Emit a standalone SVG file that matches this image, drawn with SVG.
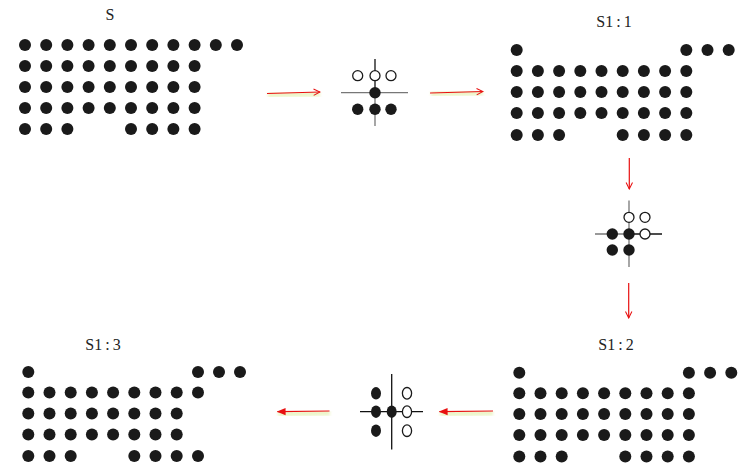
<svg xmlns="http://www.w3.org/2000/svg" xmlns:xlink="http://www.w3.org/1999/xlink" width="746" height="473" viewBox="0 0 746 473">
<style>
.d{fill:#1a1a1a}
.o{fill:#fff;stroke:#1a1a1a;stroke-width:1.3}
.lbl{font-family:"Liberation Serif","DejaVu Serif",serif;font-size:16px;fill:#222;text-anchor:middle}
.ax{stroke:#111;stroke-width:1.3;fill:none}
.axg{stroke:#777;stroke-width:1.3;fill:none}
.arr{stroke:#e81010;stroke-width:1.2;fill:none}
.glow{stroke:#dfeea0;stroke-width:5;opacity:0.6;fill:none;filter:url(#blur)}
</style>
<defs>
<filter id="blur" x="-20%" y="-200%" width="140%" height="500%"><feGaussianBlur stdDeviation="1.5"/></filter>
<marker id="v" viewBox="0 0 10 10" refX="9" refY="5" markerWidth="8" markerHeight="8" markerUnits="userSpaceOnUse" orient="auto">
<path d="M1,1 L9,5 L1,9" fill="none" stroke="#e81010" stroke-width="1.3"/>
</marker>
<marker id="t" viewBox="0 0 10 10" refX="9" refY="5" markerWidth="9" markerHeight="9" markerUnits="userSpaceOnUse" orient="auto">
<path d="M0,1 L10,5 L0,9 Z" fill="#e81010"/>
</marker>
<circle id="c" r="6" class="d"/>
</defs>

<g id="S">
<text class="lbl" x="110" y="20">S</text>
<g>
<use href="#c" x="25" y="45"/><use href="#c" x="46.2" y="45"/><use href="#c" x="67.4" y="45"/><use href="#c" x="88.6" y="45"/><use href="#c" x="109.8" y="45"/><use href="#c" x="131" y="45"/><use href="#c" x="152.2" y="45"/><use href="#c" x="173.4" y="45"/><use href="#c" x="194.6" y="45"/><use href="#c" x="215.8" y="45"/><use href="#c" x="237" y="45"/>
<use href="#c" x="25" y="66"/><use href="#c" x="46.2" y="66"/><use href="#c" x="67.4" y="66"/><use href="#c" x="88.6" y="66"/><use href="#c" x="109.8" y="66"/><use href="#c" x="131" y="66"/><use href="#c" x="152.2" y="66"/><use href="#c" x="173.4" y="66"/><use href="#c" x="194.6" y="66"/>
<use href="#c" x="25" y="87"/><use href="#c" x="46.2" y="87"/><use href="#c" x="67.4" y="87"/><use href="#c" x="88.6" y="87"/><use href="#c" x="109.8" y="87"/><use href="#c" x="131" y="87"/><use href="#c" x="152.2" y="87"/><use href="#c" x="173.4" y="87"/><use href="#c" x="194.6" y="87"/>
<use href="#c" x="25" y="108"/><use href="#c" x="46.2" y="108"/><use href="#c" x="67.4" y="108"/><use href="#c" x="88.6" y="108"/><use href="#c" x="109.8" y="108"/><use href="#c" x="131" y="108"/><use href="#c" x="152.2" y="108"/><use href="#c" x="173.4" y="108"/><use href="#c" x="194.6" y="108"/>
<use href="#c" x="25" y="129"/><use href="#c" x="46.2" y="129"/><use href="#c" x="67.4" y="129"/><use href="#c" x="131" y="129"/><use href="#c" x="152.2" y="129"/><use href="#c" x="173.4" y="129"/><use href="#c" x="194.6" y="129"/>
</g>
</g>

<g id="S1_1">
<text class="lbl" x="614" y="27">S1<tspan dx="3">:</tspan><tspan dx="3">1</tspan></text>
<g>
<use href="#c" x="516.7" y="50"/><use href="#c" x="686.3" y="50"/><use href="#c" x="707.5" y="50"/><use href="#c" x="728.7" y="50"/>
<use href="#c" x="516.7" y="71"/><use href="#c" x="537.9" y="71"/><use href="#c" x="559.1" y="71"/><use href="#c" x="580.3" y="71"/><use href="#c" x="601.5" y="71"/><use href="#c" x="622.7" y="71"/><use href="#c" x="643.9" y="71"/><use href="#c" x="665.1" y="71"/><use href="#c" x="686.3" y="71"/>
<use href="#c" x="516.7" y="92"/><use href="#c" x="537.9" y="92"/><use href="#c" x="559.1" y="92"/><use href="#c" x="580.3" y="92"/><use href="#c" x="601.5" y="92"/><use href="#c" x="622.7" y="92"/><use href="#c" x="643.9" y="92"/><use href="#c" x="665.1" y="92"/><use href="#c" x="686.3" y="92"/>
<use href="#c" x="516.7" y="113"/><use href="#c" x="537.9" y="113"/><use href="#c" x="559.1" y="113"/><use href="#c" x="580.3" y="113"/><use href="#c" x="601.5" y="113"/><use href="#c" x="622.7" y="113"/><use href="#c" x="643.9" y="113"/><use href="#c" x="665.1" y="113"/><use href="#c" x="686.3" y="113"/>
<use href="#c" x="516.7" y="135"/><use href="#c" x="537.9" y="135"/><use href="#c" x="559.1" y="135"/><use href="#c" x="622.7" y="135"/><use href="#c" x="643.9" y="135"/><use href="#c" x="665.1" y="135"/><use href="#c" x="686.3" y="135"/>
</g>
</g>

<g id="S1_2">
<text class="lbl" x="616" y="350">S1<tspan dx="3">:</tspan><tspan dx="3">2</tspan></text>
<g>
<use href="#c" x="519.3" y="372.7"/><use href="#c" x="688.9" y="372.7"/><use href="#c" x="710.1" y="372.7"/><use href="#c" x="731.3" y="372.7"/>
<use href="#c" x="519.3" y="393.3"/><use href="#c" x="540.5" y="393.3"/><use href="#c" x="561.7" y="393.3"/><use href="#c" x="582.9" y="393.3"/><use href="#c" x="604.1" y="393.3"/><use href="#c" x="625.3" y="393.3"/><use href="#c" x="646.5" y="393.3"/><use href="#c" x="667.7" y="393.3"/><use href="#c" x="688.9" y="393.3"/>
<use href="#c" x="519.3" y="414"/><use href="#c" x="540.5" y="414"/><use href="#c" x="561.7" y="414"/><use href="#c" x="582.9" y="414"/><use href="#c" x="604.1" y="414"/><use href="#c" x="625.3" y="414"/><use href="#c" x="646.5" y="414"/><use href="#c" x="667.7" y="414"/><use href="#c" x="688.9" y="414"/>
<use href="#c" x="519.3" y="435"/><use href="#c" x="540.5" y="435"/><use href="#c" x="561.7" y="435"/><use href="#c" x="582.9" y="435"/><use href="#c" x="604.1" y="435"/><use href="#c" x="625.3" y="435"/><use href="#c" x="646.5" y="435"/><use href="#c" x="667.7" y="435"/><use href="#c" x="688.9" y="435"/>
<use href="#c" x="519.3" y="456.5"/><use href="#c" x="540.5" y="456.5"/><use href="#c" x="561.7" y="456.5"/><use href="#c" x="625.3" y="456.5"/><use href="#c" x="646.5" y="456.5"/><use href="#c" x="667.7" y="456.5"/><use href="#c" x="688.9" y="456.5"/>
</g>
</g>

<g id="S1_3">
<text class="lbl" x="103" y="350">S1<tspan dx="3">:</tspan><tspan dx="3">3</tspan></text>
<g>
<use href="#c" x="28.3" y="372"/><use href="#c" x="198" y="372"/><use href="#c" x="219" y="372"/><use href="#c" x="240" y="372"/>
<use href="#c" x="28.3" y="392.5"/><use href="#c" x="49.5" y="392.5"/><use href="#c" x="70.7" y="392.5"/><use href="#c" x="91.9" y="392.5"/><use href="#c" x="113.1" y="392.5"/><use href="#c" x="134.3" y="392.5"/><use href="#c" x="155.5" y="392.5"/><use href="#c" x="176.7" y="392.5"/><use href="#c" x="198" y="392.5"/>
<use href="#c" x="28.3" y="413.5"/><use href="#c" x="49.5" y="413.5"/><use href="#c" x="70.7" y="413.5"/><use href="#c" x="91.9" y="413.5"/><use href="#c" x="113.1" y="413.5"/><use href="#c" x="134.3" y="413.5"/><use href="#c" x="155.5" y="413.5"/><use href="#c" x="176.7" y="413.5"/>
<use href="#c" x="28.3" y="434.5"/><use href="#c" x="49.5" y="434.5"/><use href="#c" x="70.7" y="434.5"/><use href="#c" x="91.9" y="434.5"/><use href="#c" x="113.1" y="434.5"/><use href="#c" x="134.3" y="434.5"/><use href="#c" x="155.5" y="434.5"/><use href="#c" x="176.7" y="434.5"/>
<use href="#c" x="28.3" y="456"/><use href="#c" x="49.5" y="456"/><use href="#c" x="70.7" y="456"/><use href="#c" x="134.3" y="456"/><use href="#c" x="155.5" y="456"/><use href="#c" x="176.7" y="456"/><use href="#c" x="198" y="456"/>
</g>
</g>

<g id="SE1">
<line class="ax" x1="375" y1="59" x2="375" y2="92.7"/>
<line class="axg" x1="375" y1="92.7" x2="375" y2="126"/>
<line class="axg" x1="341" y1="92.7" x2="408" y2="92.7"/>
<circle class="o" cx="357.7" cy="75.7" r="5"/><circle class="o" cx="375" cy="75.7" r="5"/><circle class="o" cx="391" cy="75.7" r="5"/>
<circle class="d" cx="375" cy="92.7" r="5.7"/>
<circle class="d" cx="357.7" cy="109.3" r="5.7"/><circle class="d" cx="375" cy="109.3" r="5.7"/><circle class="d" cx="391" cy="109.3" r="5.7"/>
</g>

<g id="SE2">
<line class="axg" x1="629" y1="200.5" x2="629" y2="267"/>
<line class="axg" x1="595" y1="234" x2="629" y2="234"/>
<line class="ax" x1="629" y1="234" x2="662" y2="234"/>
<circle class="o" cx="629" cy="217.3" r="5"/><circle class="o" cx="645" cy="217.3" r="5"/><circle class="o" cx="645" cy="234" r="5"/>
<circle class="d" cx="612.3" cy="234" r="5.7"/><circle class="d" cx="629" cy="234" r="5.7"/>
<circle class="d" cx="612.3" cy="250" r="5.7"/><circle class="d" cx="629" cy="250" r="5.7"/>
</g>

<g id="SE3">
<line class="ax" x1="391.7" y1="374" x2="391.7" y2="449.5"/>
<line class="ax" x1="360" y1="411.7" x2="423" y2="411.7"/>
<ellipse class="d" cx="376" cy="393.3" rx="5" ry="6.2"/><ellipse class="d" cx="376" cy="411.7" rx="5" ry="6.2"/><ellipse class="d" cx="376" cy="430.7" rx="5" ry="6.2"/>
<ellipse class="d" cx="391.7" cy="411.7" rx="5" ry="6.2"/>
<ellipse class="o" cx="407" cy="393.3" rx="4.6" ry="5.8"/><ellipse class="o" cx="407" cy="411.7" rx="4.6" ry="5.8"/><ellipse class="o" cx="407" cy="430.7" rx="4.6" ry="5.8"/>
</g>

<g id="connectors">
<line class="glow" x1="268" y1="95" x2="320" y2="94"/>
<line class="arr" x1="267" y1="93.5" x2="320" y2="92" marker-end="url(#v)"/>
<line class="glow" x1="431" y1="94" x2="483" y2="93"/>
<line class="arr" x1="430" y1="93" x2="483" y2="91.5" marker-end="url(#v)"/>
<line class="glow" x1="630.5" y1="158" x2="630.5" y2="189"/>
<line class="arr" x1="629.3" y1="158" x2="629.3" y2="189" marker-end="url(#v)"/>
<line class="glow" x1="630" y1="283" x2="630" y2="318"/>
<line class="arr" x1="628.7" y1="283" x2="628.7" y2="318" marker-end="url(#v)"/>
<line class="glow" x1="493" y1="413" x2="440" y2="414"/>
<line class="arr" x1="493" y1="411" x2="439.5" y2="411.7" marker-end="url(#t)"/>
<line class="glow" x1="330" y1="413" x2="278" y2="414"/>
<line class="arr" x1="329.5" y1="411" x2="277.5" y2="411.7" marker-end="url(#t)"/>
</g>
</svg>
